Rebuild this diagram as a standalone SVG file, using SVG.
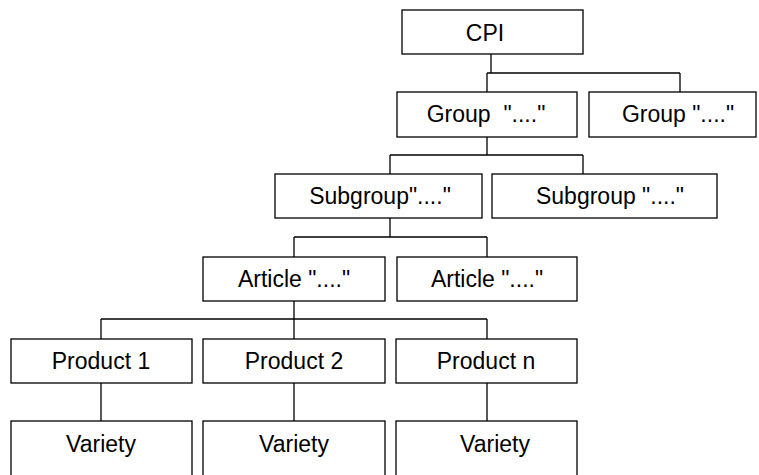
<svg xmlns="http://www.w3.org/2000/svg" width="759" height="475" viewBox="0 0 759 475">
<style>
rect{fill:#fff;stroke:#000;stroke-width:1.3}
text{font-family:"Liberation Sans",Arial,sans-serif;font-size:23px;fill:#000;text-anchor:middle;white-space:pre}
#connectors path{fill:none;stroke:#000;stroke-width:1.3}
</style>
<rect x="0" y="0" width="759" height="475" style="stroke:none"/>
<g id="connectors">
<path d="M491 54V73M487 73H680M487 73V92M680 73V92"/>
<path d="M487 137V155M390 155H583M390 155V174M583 155V174"/>
<path d="M390 218V237M294 237H487M294 237V257M487 237V257"/>
<path d="M294 301V319M101 319H487M101 319V339M294 319V339M487 319V339"/>
<path d="M101 383V421M294 383V421M487 383V421"/>
</g>
<g id="cpi"><rect x="402" y="10" width="181" height="44"/><text x="485" y="41">CPI</text></g>
<g id="group1"><rect x="397" y="92" width="180" height="45"/><text x="486" y="122" xml:space="preserve">Group  "...."</text></g>
<g id="group2"><rect x="589" y="92" width="167" height="45"/><text x="678" y="122">Group "...."</text></g>
<g id="subgroup1"><rect x="275" y="174" width="207" height="44"/><text x="380" y="204">Subgroup"...."</text></g>
<g id="subgroup2"><rect x="492" y="174" width="225" height="44"/><text x="610" y="204">Subgroup "...."</text></g>
<g id="article1"><rect x="203" y="257" width="182" height="44"/><text x="294" y="287">Article "...."</text></g>
<g id="article2"><rect x="397" y="257" width="180" height="44"/><text x="487" y="287">Article "...."</text></g>
<g id="product1"><rect x="11" y="339" width="181" height="44"/><text x="101" y="369">Product 1</text></g>
<g id="product2"><rect x="203" y="339" width="182" height="44"/><text x="294" y="369">Product 2</text></g>
<g id="productn"><rect x="396" y="339" width="181" height="44"/><text x="486" y="369">Product n</text></g>
<g id="variety1"><rect x="11" y="421" width="181" height="60"/><text x="101" y="452">Variety</text></g>
<g id="variety2"><rect x="203" y="421" width="182" height="60"/><text x="294" y="452">Variety</text></g>
<g id="variety3"><rect x="396" y="421" width="181" height="60"/><text x="495" y="452">Variety</text></g>
</svg>
